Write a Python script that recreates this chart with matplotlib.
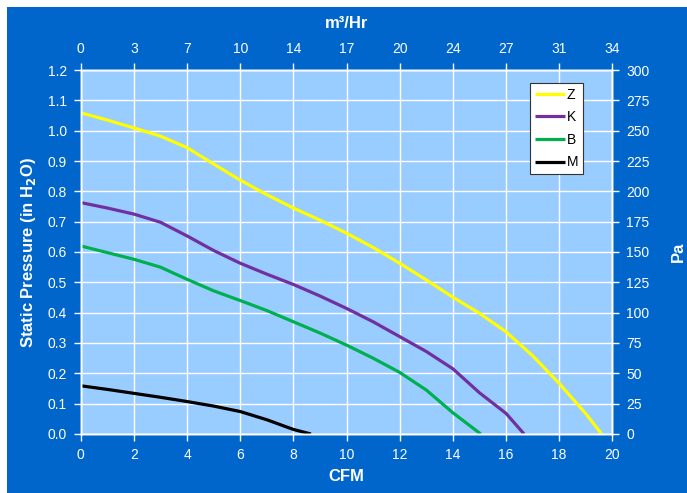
import matplotlib.pyplot as plt
from matplotlib.patches import Rectangle
import numpy as np

plt.rcParams['font.family'] = ['Liberation Sans', 'DejaVu Sans']

# fan curves, CFM vs static pressure (in H2O)
z_cfm = [0, 1, 2, 3, 4, 5, 6, 7, 8, 9, 10, 11, 12, 13, 14, 15, 16, 17, 18, 19, 19.6]
z_sp = [1.059, 1.035, 1.009, 0.982, 0.944, 0.89, 0.837, 0.789, 0.745, 0.705, 0.662,
        0.615, 0.563, 0.508, 0.451, 0.398, 0.337, 0.258, 0.167, 0.067, 0.0]
k_cfm = [0, 1, 2, 3, 4, 5, 6, 7, 8, 9, 10, 11, 12, 13, 14, 15, 16, 16.68]
k_sp = [0.763, 0.745, 0.725, 0.698, 0.653, 0.605, 0.563, 0.527, 0.493, 0.455, 0.414,
        0.37, 0.321, 0.272, 0.215, 0.136, 0.068, 0.0]
b_cfm = [0, 1, 2, 3, 4, 5, 6, 7, 8, 9, 10, 11, 12, 13, 14, 15.05]
b_sp = [0.62, 0.598, 0.576, 0.550, 0.510, 0.472, 0.44, 0.407, 0.37, 0.333, 0.293,
        0.25, 0.203, 0.145, 0.07, 0.0]
m_cfm = [0, 1, 2, 3, 4, 5, 6, 7, 8, 8.66]
m_sp = [0.159, 0.147, 0.134, 0.121, 0.107, 0.092, 0.074, 0.047, 0.015, 0.0]

series = [('Z', z_cfm, z_sp, '#FFFF00'),
          ('K', k_cfm, k_sp, '#7030A0'),
          ('B', b_cfm, b_sp, '#00B050'),
          ('M', m_cfm, m_sp, '#000000')]

cfm_ticks = [0, 2, 4, 6, 8, 10, 12, 14, 16, 18, 20]
m3hr_labels = ['0', '3', '7', '10', '14', '17', '20', '24', '27', '31', '34']
sp_ticks = [0.0, 0.1, 0.2, 0.3, 0.4, 0.5, 0.6, 0.7, 0.8, 0.9, 1.0, 1.1, 1.2]
pa_labels = ['0', '25', '50', '75', '100', '125', '150', '175', '200', '225', '250', '275', '300']

blue = '#0066CC'
fig = plt.figure(figsize=(6.87, 4.93), dpi=100)
fig.patch.set_facecolor('white')
fig.patches.append(Rectangle((7/687, 0), 1, 1 - 7/493, transform=fig.transFigure,
                             facecolor=blue, edgecolor='none', zorder=-10))

ax = fig.add_axes([0.1175, 0.1197, 0.8913 - 0.1175, 0.858 - 0.1197])
ax.set_facecolor('#99CCFF')
for name, x, y, c in series:
    ax.plot(x, y, color=c, lw=2.3, label=name, solid_capstyle='butt', solid_joinstyle='round')

ax.set_xlim(0, 20)
ax.set_ylim(0, 1.2)
ax.set_xticks(cfm_ticks)
ax.set_yticks(sp_ticks)
ax.set_yticklabels(['%.1f' % v for v in sp_ticks])
ax.grid(True, color='white', lw=1)
ax.set_axisbelow(True)
ax.set_xlabel('CFM', color='white', fontsize=12, fontweight='bold', labelpad=5)
ax.set_ylabel('Static Pressure (in H$_\\mathbf{2}$O)', color='white', fontsize=12,
              fontweight='bold', labelpad=7)

ax2 = ax.twiny()
ax2.set_xlim(0, 20)
ax2.set_xticks(cfm_ticks)
ax2.set_xticklabels(m3hr_labels)
ax2.set_xlabel('m³/Hr', color='white', fontsize=12, fontweight='bold', labelpad=10)

ax3 = ax.twinx()
ax3.set_ylim(0, 1.2)
ax3.set_yticks(sp_ticks)
ax3.set_yticklabels(pa_labels)
ax3.set_ylabel('Pa', color='white', fontsize=12, fontweight='bold', labelpad=15)

for a in (ax, ax2, ax3):
    a.tick_params(colors='white', labelsize=10, length=5, width=1, pad=5)
    for s in a.spines.values():
        s.set_color('white')
        s.set_linewidth(1)

leg = ax.legend(loc='upper left', bbox_to_anchor=(0.845, 0.965), fontsize=10,
                frameon=True, fancybox=False, framealpha=1, edgecolor='#333333',
                handlelength=2.2, handletextpad=0.1, labelspacing=0.62,
                borderpad=0.35, borderaxespad=0)
leg.get_frame().set_linewidth(0.8)

plt.savefig('out.png', dpi=100)
